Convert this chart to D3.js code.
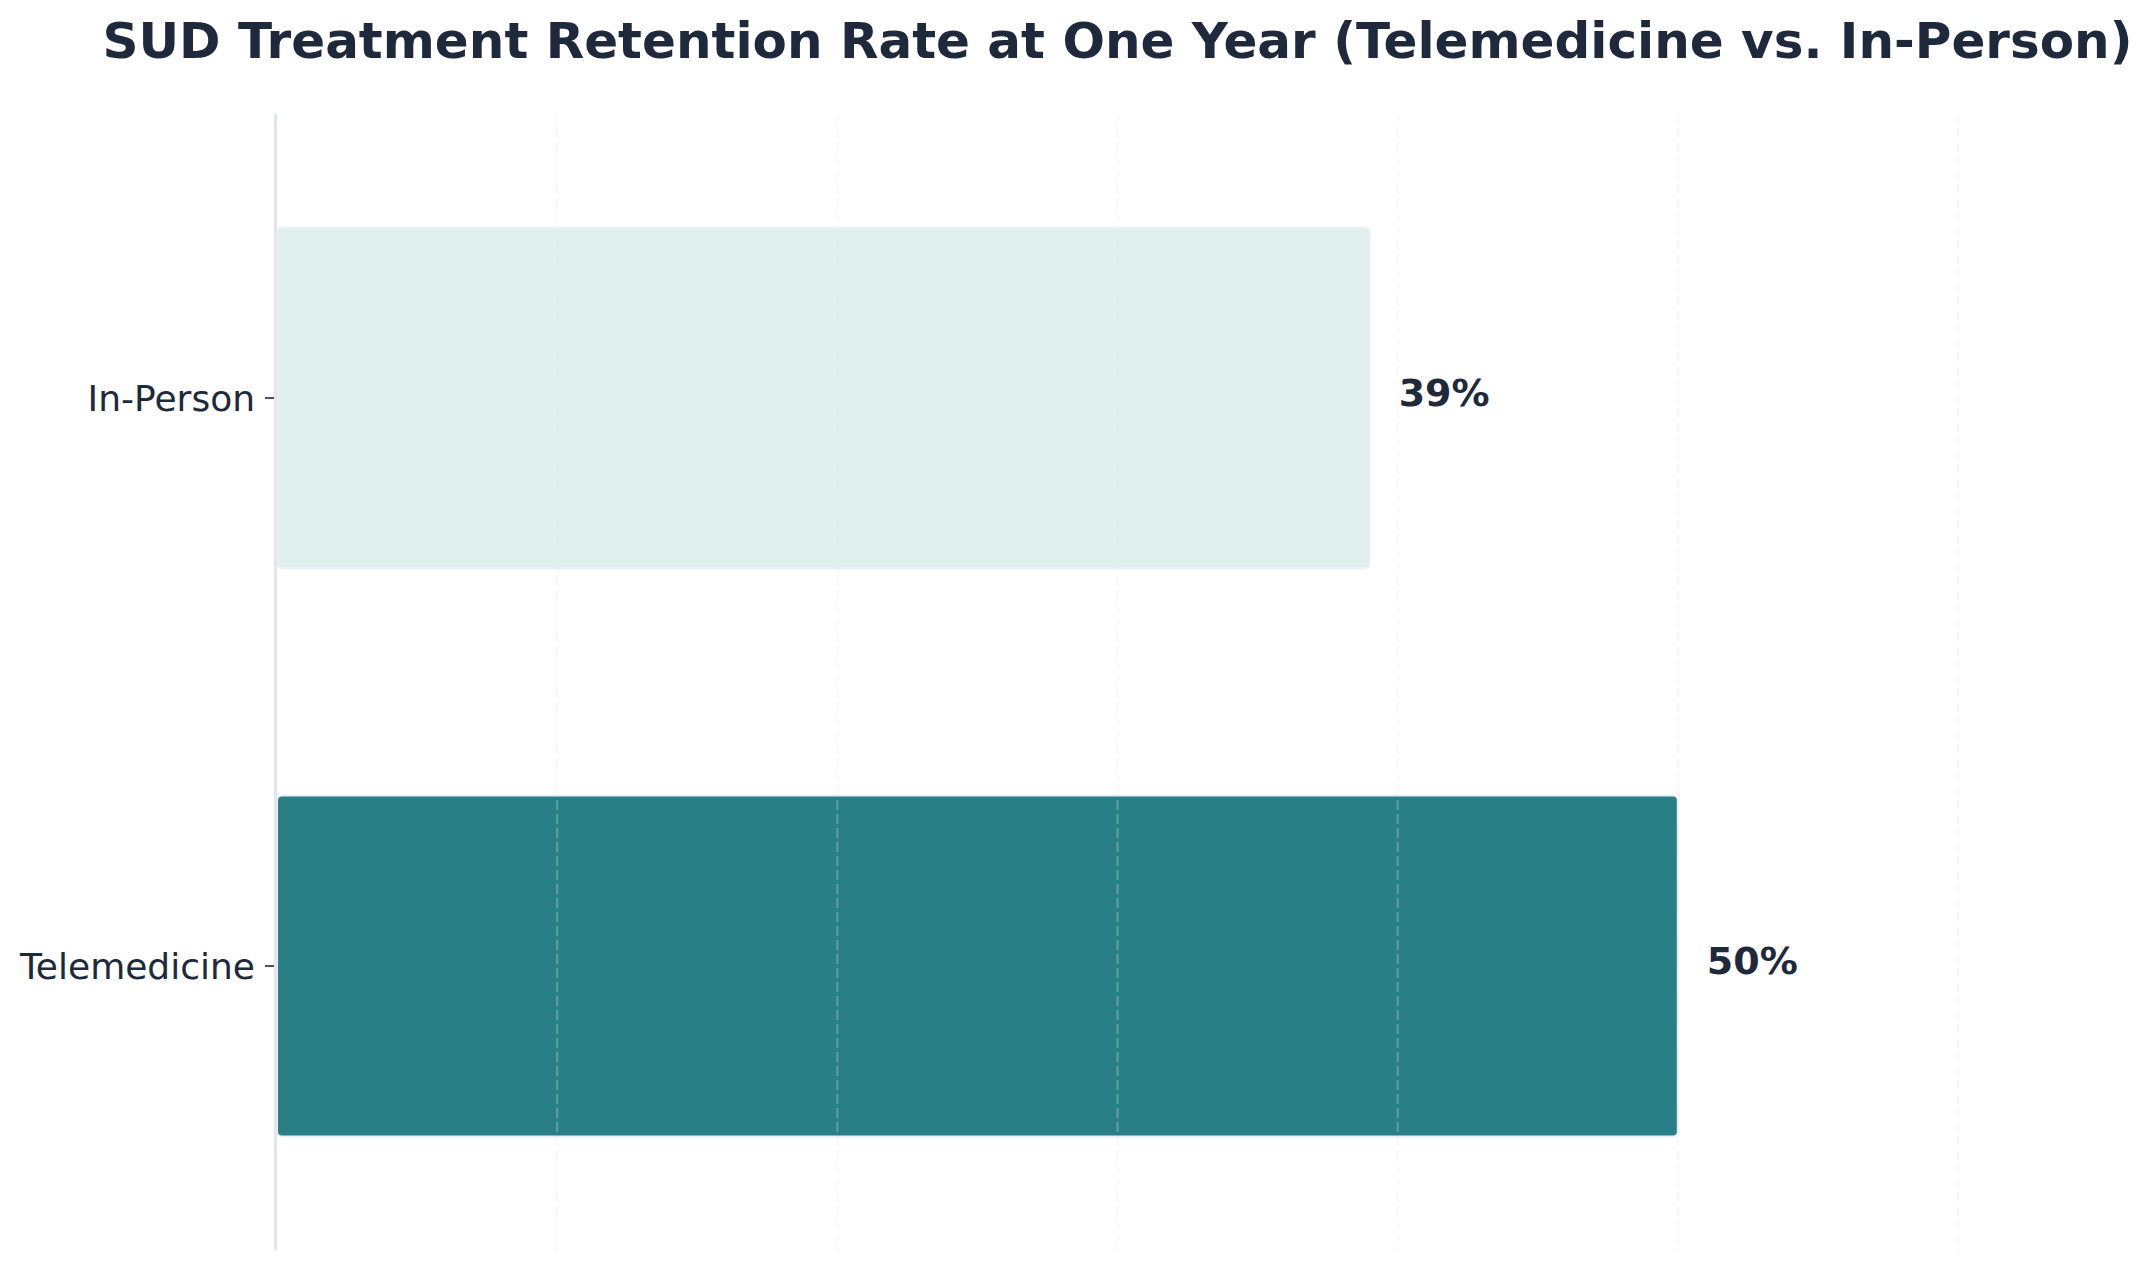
<!DOCTYPE html>
<html>
<head>
<meta charset="utf-8">
<script src="https://cdn.jsdelivr.net/npm/d3@7"></script>
<style>
  html, body { margin: 0; padding: 0; background: #ffffff; }
  svg { display: block; font-family: "DejaVu Sans", sans-serif; }
</style>
</head>
<body>
<div id="chart"></div>
<script>
  'use strict';

  // ---- Data ----------------------------------------------------------------
  var categories = ['In-Person', 'Telemedicine'];      // top to bottom
  var retentionPct = [39, 50];
  var barColors = ['#e0eeee', '#287f86'];
  var xTicks = [10, 20, 30, 40, 50, 60];
  var chartTitle = 'SUD Treatment Retention Rate at One Year (Telemedicine vs. In-Person)';

  // ---- Layout --------------------------------------------------------------
  var W = 2151, H = 1268;
  var margin = { top: 114, right: 193, bottom: 18, left: 277 };
  var innerW = W - margin.left - margin.right;
  var innerH = H - margin.top - margin.bottom;
  var textColor = '#1e293b';

  var svg = d3.select('#chart').append('svg')
    .attr('width', W)
    .attr('height', H);

  var x = d3.scaleLinear().domain([0, 60]).range([0, innerW]);
  var y = d3.scaleBand().domain(categories).range([0, innerH])
    .paddingInner(0.4).paddingOuter(0.2);

  var g = svg.append('g')
    .attr('transform', 'translate(' + margin.left + ',' + margin.top + ')');

  // bars
  var rows = categories.map(function(c, i) {
    return { category: c, value: retentionPct[i], color: barColors[i] };
  });

  g.selectAll('rect.bar')
    .data(rows)
    .enter().append('rect')
    .attr('class', 'bar')
    .attr('x', x(0))
    .attr('y', function(d) { return y(d.category); })
    .attr('width', function(d) { return x(d.value) - x(0); })
    .attr('height', y.bandwidth())
    .attr('rx', 5).attr('ry', 5)
    .attr('fill', function(d) { return d.color; })
    .attr('stroke', '#edf0f5')
    .attr('stroke-width', 2);

  // vertical dashed grid, drawn over the bars
  g.selectAll('line.grid')
    .data(xTicks)
    .enter().append('line')
    .attr('class', 'grid')
    .attr('x1', function(d) { return x(d); })
    .attr('x2', function(d) { return x(d); })
    .attr('y1', 0)
    .attr('y2', innerH)
    .attr('stroke', '#e2e8f0')
    .attr('stroke-opacity', 0.3)
    .attr('stroke-width', 2)
    .attr('stroke-dasharray', '10,4');

  // left spine
  g.append('line')
    .attr('x1', -1.5).attr('x2', -1.5)
    .attr('y1', 0).attr('y2', innerH)
    .attr('stroke', '#e2e4ef')
    .attr('stroke-width', 3);

  // y axis ticks and labels
  var yAxis = g.append('g')
    .attr('transform', 'translate(-3,0)')
    .call(d3.axisLeft(y).tickSize(9).tickPadding(10));
  yAxis.select('.domain').remove();
  yAxis.selectAll('.tick line')
    .attr('stroke', '#475569')
    .attr('stroke-width', 2);
  yAxis.selectAll('.tick text')
    .attr('fill', textColor)
    .attr('dy', '0.37em')
    .style('font-size', '36px')
    .style('font-family', '"DejaVu Sans", sans-serif');

  // value labels
  g.selectAll('text.value')
    .data(rows)
    .enter().append('text')
    .attr('class', 'value')
    .attr('x', function(d) { return x(d.value + 1) + 1; })
    .attr('y', function(d) { return y(d.category) + y.bandwidth() / 2; })
    .attr('dy', '0.2em')
    .attr('fill', textColor)
    .style('font-size', '38px')
    .style('font-weight', 'bold')
    .text(function(d) { return d.value + '%'; });

  // title
  svg.append('text')
    .attr('x', margin.left + innerW / 2)
    .attr('y', 58)
    .attr('text-anchor', 'middle')
    .attr('fill', textColor)
    .style('font-size', '50px')
    .style('font-weight', 'bold')
    .text(chartTitle);
</script>
</body>
</html>
